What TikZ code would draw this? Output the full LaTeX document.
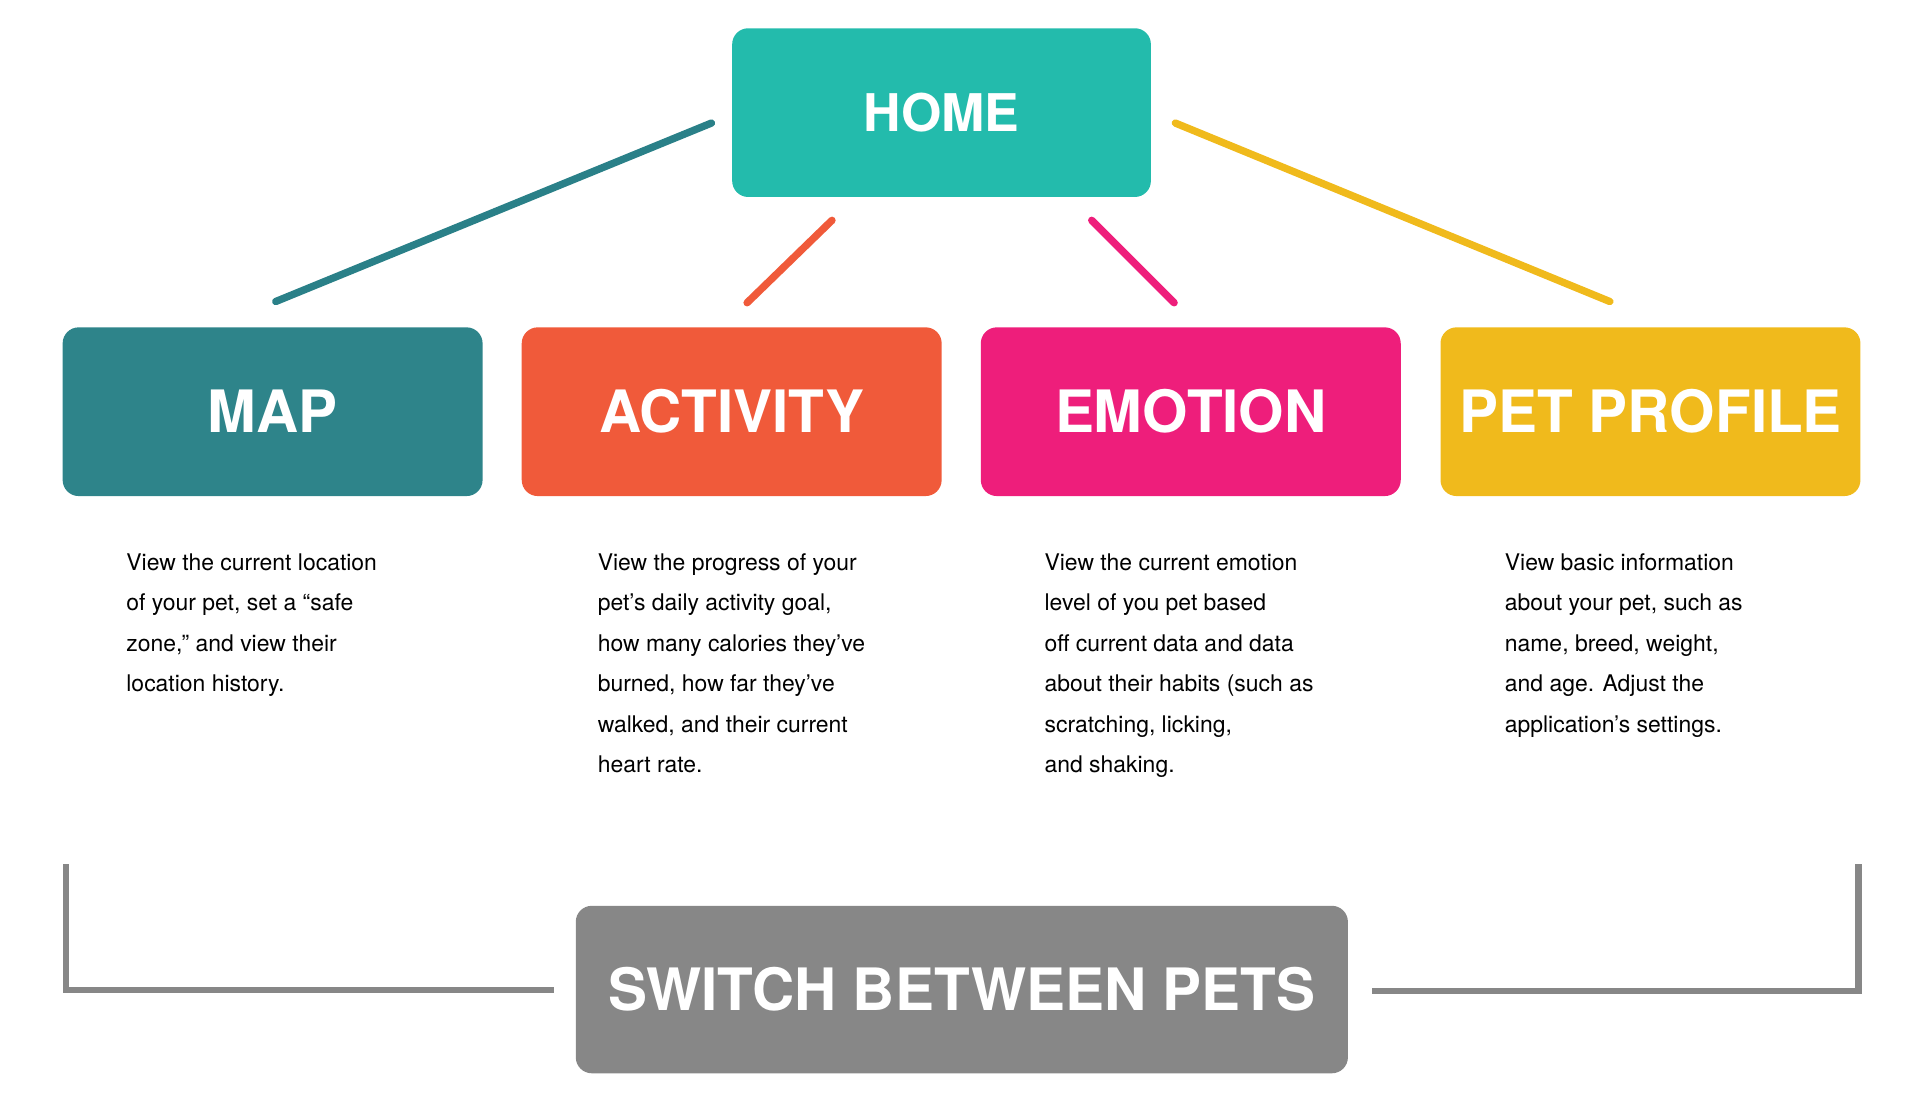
\documentclass[tikz,border=0pt]{standalone}
\usepackage{fontspec}
\setmainfont{TeX Gyre Heros}
\usetikzlibrary{positioning}
\definecolor{homec}{HTML}{23BBAC}
\definecolor{mapc}{HTML}{2E848A}
\definecolor{actc}{HTML}{F05A3A}
\definecolor{emoc}{HTML}{EE1E7B}
\definecolor{petc}{HTML}{F0BA1C}
\definecolor{grayc}{HTML}{878787}
\definecolor{maplc}{HTML}{2A8088}
\begin{document}
\begin{tikzpicture}[x=0.01cm,y=-0.01cm,
                        box/.style={rounded corners=0.13cm,minimum width=3.41cm,minimum height=1.37cm,
                        text=white,font=\fontsize{13.5}{14}\selectfont\bfseries,inner sep=0pt},
                        desc/.style={anchor=north west,align=left,inner sep=0pt,
                        font=\fontsize{5.3}{9.35}\selectfont},
                        link/.style={line width=1.7pt,line cap=round},
                        frame/.style={line width=1.4pt,grayc}
                        ]
                        \useasboundingbox (0,0) rectangle (1560,897);
                        % top and menu boxes
                        \node[box,fill=homec,minimum width=3.4cm,font=\fontsize{12}{13}\selectfont\bfseries] (home) at (765,91.5) {HOME};
                        \node[box,fill=mapc] (map) at (221.5,334.5) {MAP};
                        \node[box,fill=actc] (activity) at (594.5,334.5) {ACTIVITY};
                        \node[box,fill=emoc] (emotion) at (967.5,334.5) {EMOTION};
                        \node[box,fill=petc] (profile) at (1341,334.5) {PET PROFILE};
                        \node[box,fill=grayc,minimum width=6.27cm,minimum height=1.36cm] (switch) at (781.5,804) {SWITCH BETWEEN PETS};

                        % connectors
                        \coordinate (h1) at (578,100); \coordinate (m1) at (224,245);
                        \coordinate (h2) at (676,179); \coordinate (a1) at (607,246);
                        \coordinate (h3) at (887,179); \coordinate (e1) at (954,246);
                        \coordinate (h4) at (955,100); \coordinate (p1) at (1308,245);
                        \draw[link,maplc] (h1) -- (m1);
                        \draw[link,actc] (h2) -- (a1);
                        \draw[link,emoc] (h3) -- (e1);
                        \draw[link,petc] (h4) -- (p1);

                        % descriptions
                        \node[desc] (mapd) at (102,449) {View the current location\\of your pet, set a “safe\\zone,” and view their\\location history.};
                        \node[desc] (actd) at (485,449) {View the progress of your\\pet’s daily activity goal,\\how many calories they’ve\\burned, how far they’ve\\walked, and their current\\heart rate.};
                        \node[desc] (emod) at (848,449) {View the current emotion\\level of you pet based\\off current data and data\\about their habits (such as\\scratching, licking,\\and shaking.};
                        \node[desc] (petd) at (1222,449) {View basic information\\about your pet, such as\\name, breed, weight,\\and age. Adjust the\\application’s settings.};

                        % bracket
                        \coordinate (l1) at (54,702); \coordinate (l2) at (450,804);
                        \coordinate (r1) at (1115,805); \coordinate (r2) at (1510,702);
                        \draw[frame] (l1) |- (l2);
                        \draw[frame] (r1) -| (r2);
                \end{tikzpicture}
\end{document}
